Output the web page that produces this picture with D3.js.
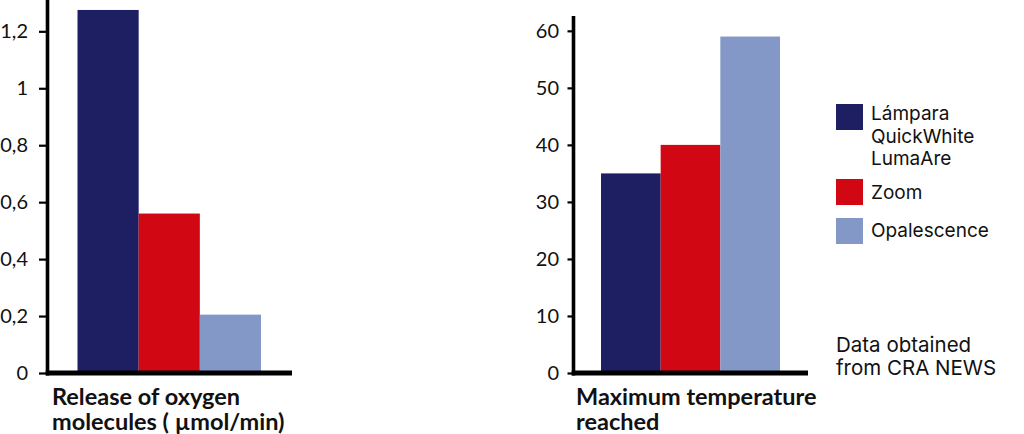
<!DOCTYPE html>
<html>
<head>
<meta charset="utf-8">
<script src="https://cdn.jsdelivr.net/npm/d3@7"></script>
<style>
  html, body { margin: 0; padding: 0; background: #fff; }
  svg { display: block; }
</style>
</head>
<body>
<svg id="chart" width="1024" height="434"></svg>
<script>
// ---- data ----
const categories = ["Lámpara QuickWhite LumaAre", "Zoom", "Opalescence"];
const legendLines = [["Lámpara", "QuickWhite", "LumaAre"], ["Zoom"], ["Opalescence"]];
const oxygenValues = [1.275, 0.56, 0.205];
const temperatureValues = [35, 40, 59];
const oxygenTicks = [0, 0.2, 0.4, 0.6, 0.8, 1, 1.2];
const temperatureTicks = [0, 10, 20, 30, 40, 50, 60];
const oxygenTitle = ["Release of oxygen", "molecules ( µmol/min)"];
const temperatureTitle = ["Maximum temperature", "reached"];
const noteLines = ["Data obtained", "from CRA NEWS"];
const colors = ["#1e1e63", "#d10814", "#8498c8"];

const svg = d3.select("#chart");
const comma = d3.formatLocale({decimal: ",", thousands: ".", grouping: [3], currency: ["", ""]}).format("~g");

function panel(opts) {
  const g = svg.append("g");
  const y = d3.scaleLinear().domain([0, opts.max]).range([opts.base, opts.top]);
  const x = d3.scaleBand().domain(categories).range(opts.barRange).paddingInner(0).paddingOuter(0);

  g.selectAll("rect.bar").data(opts.values).join("rect")
    .attr("class", "bar")
    .attr("x", (d, i) => x(categories[i]))
    .attr("width", x.bandwidth())
    .attr("y", d => y(d))
    .attr("height", d => opts.base - y(d))
    .attr("fill", (d, i) => colors[i]);

  const axis = g.append("g")
    .attr("transform", `translate(${opts.axisX},0)`)
    .call(d3.axisLeft(y).tickValues(opts.ticks).tickFormat(opts.fmt)
      .tickSize(opts.tickSize).tickSizeOuter(0).tickPadding(opts.tickPad));
  axis.select(".domain").remove();
  axis.selectAll(".tick line").attr("stroke", "#000").attr("stroke-width", 2.2);
  axis.selectAll(".tick text")
    .attr("font-family", "Lato, 'Open Sans', sans-serif")
    .attr("font-size", 20)
    .attr("fill", "#111");

  // vertical axis line
  g.append("line")
    .attr("x1", opts.axisX).attr("x2", opts.axisX)
    .attr("y1", y(opts.max)).attr("y2", opts.base + 2.5)
    .attr("stroke", "#000").attr("stroke-width", 3.6);
  // baseline
  g.append("line")
    .attr("x1", opts.axisX - 1.8).attr("x2", opts.baseEnd)
    .attr("y1", opts.base).attr("y2", opts.base)
    .attr("stroke", "#000").attr("stroke-width", 5);

  g.append("text")
    .attr("x", opts.titleX).attr("y", 405)
    .attr("font-family", "Lato, sans-serif")
    .attr("font-weight", 700)
    .attr("font-size", 23.5)
    .attr("fill", "#111")
    .selectAll("tspan").data(opts.title).join("tspan")
    .attr("x", opts.titleX)
    .attr("dy", (d, i) => i ? 24.5 : 0)
    .text(d => d);
}

panel({values: oxygenValues, ticks: oxygenTicks, max: 1.31, base: 373, top: 0,
       axisX: 47.5, barRange: [77.5, 261], baseEnd: 292, tickSize: 8.5, tickPad: 11,
       fmt: d => comma(d), title: oxygenTitle, titleX: 52});

panel({values: temperatureValues, ticks: temperatureTicks, max: 62.6, base: 373, top: 16,
       axisX: 573.5, barRange: [601, 780], baseEnd: 808, tickSize: 6, tickPad: 8.5,
       fmt: d => String(d), title: temperatureTitle, titleX: 576});

// legend
const legendFont = "Inter, 'Noto Sans', sans-serif";
const legendRectY = [104, 179, 218];
const legendTextY = [120, 199, 237];
const lg = svg.append("g");
legendLines.forEach((lines, i) => {
  lg.append("rect")
    .attr("x", 836).attr("y", legendRectY[i])
    .attr("width", 27).attr("height", 26)
    .attr("fill", colors[i]);
  lg.append("text")
    .attr("x", 871).attr("y", legendTextY[i])
    .attr("font-family", legendFont)
    .attr("font-size", 19)
    .attr("fill", "#111")
    .selectAll("tspan").data(lines).join("tspan")
    .attr("x", 871)
    .attr("dy", (d, j) => j ? 22.5 : 0)
    .text(d => d);
});

svg.append("text")
  .attr("x", 836).attr("y", 352)
  .attr("font-family", legendFont)
  .attr("font-size", 20.5)
  .attr("fill", "#111")
  .selectAll("tspan").data(noteLines).join("tspan")
  .attr("x", 836)
  .attr("dy", (d, i) => i ? 23 : 0)
  .text(d => d);
</script>
</body>
</html>
